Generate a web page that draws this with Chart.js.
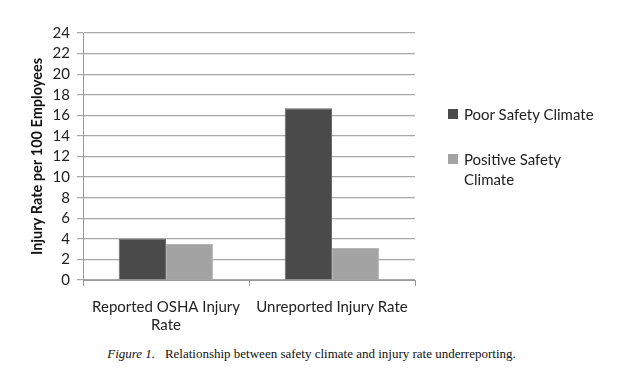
<!DOCTYPE html>
<html>
<head>
<meta charset="utf-8">
<script src="https://cdn.jsdelivr.net/npm/chart.js@4"></script>
<style>
  body { margin: 0; background: #fff; width: 623px; height: 384px; overflow: hidden; position: relative; }
  #wrap { position: absolute; left: 0; top: 0; width: 623px; height: 345px; }
  #legend { position: absolute; left: 448px; top: 104px; font-family: Lato, "Open Sans", sans-serif; font-size: 15px; color: #222; }
  .item { display: flex; align-items: flex-start; width: 158px; line-height: 20px; margin-bottom: 25px; }
  .box { width: 10px; height: 10px; margin: 5px 6px 0 0; flex: none; }
  #caption { position: absolute; left: 0; width: 623px; top: 346px; text-align: center; font-family: "Liberation Serif", serif; font-size: 13px; color: #111; }
</style>
</head>
<body>
<div id="wrap"><canvas id="chart"></canvas></div>
<div id="legend"></div>
<div id="caption"><i>Figure 1.</i>&nbsp;&nbsp;&nbsp;Relationship between safety climate and injury rate underreporting.</div>
<script>
const categories = [["Reported OSHA Injury", "Rate"], "Unreported Injury Rate"];
const poorSafety = [4.0, 16.7];
const positiveSafety = [3.5, 3.1];
const seriesNames = ["Poor Safety Climate", "Positive Safety Climate"];
const seriesColors = ["#4a4a4a", "#a3a3a3"];

const ctx = document.getElementById("chart").getContext("2d");
const chart = new Chart(ctx, {
  type: "bar",
  data: {
    labels: categories,
    datasets: [
      { label: seriesNames[0], data: poorSafety, backgroundColor: seriesColors[0], borderColor: "#6a6a6a", borderWidth: 1 },
      { label: seriesNames[1], data: positiveSafety, backgroundColor: seriesColors[1], borderColor: "#b5b5b5", borderWidth: 1 },
    ],
  },
  options: {
    responsive: true,
    maintainAspectRatio: false,
    animation: false,
    layout: { padding: { top: 33, right: 208, left: 0, bottom: 0 } },
    plugins: { legend: { display: false }, tooltip: { enabled: false } },
    datasets: { bar: { categoryPercentage: 0.57, barPercentage: 1.0 } },
    scales: {
      x: {
        offset: true,
        grid: { display: true, drawOnChartArea: false, offset: true, color: "#999", tickLength: 6 },
        border: { color: "#999" },
        ticks: { color: "#222", font: { family: "Lato", size: 15 }, maxRotation: 0, padding: 12 },
        afterFit: (scale) => { scale.height = 65; },
      },
      y: {
        min: 0,
        max: 24,
        ticks: { stepSize: 2, autoSkip: false, color: "#222", font: { family: "Lato", size: 15 }, padding: 7 },
        grid: { color: "#a8a8a8", lineWidth: 1.2, tickLength: 6 },
        border: { color: "#999" },
        title: { display: true, text: "Injury Rate per 100 Employees", color: "#111", font: { family: "Lato", size: 14.5, weight: "bold" }, padding: { top: 29, bottom: 0 } },
        afterFit: (scale) => { scale.width = 83; },
      },
    },
  },
});

// Legend with wrapped text, built from the datasets
const legend = document.getElementById("legend");
chart.data.datasets.forEach((ds) => {
  const item = document.createElement("div");
  item.className = "item";
  item.innerHTML = '<span class="box" style="background:' + ds.backgroundColor + '"></span><span>' + ds.label + "</span>";
  legend.appendChild(item);
});
</script>
</body>
</html>
